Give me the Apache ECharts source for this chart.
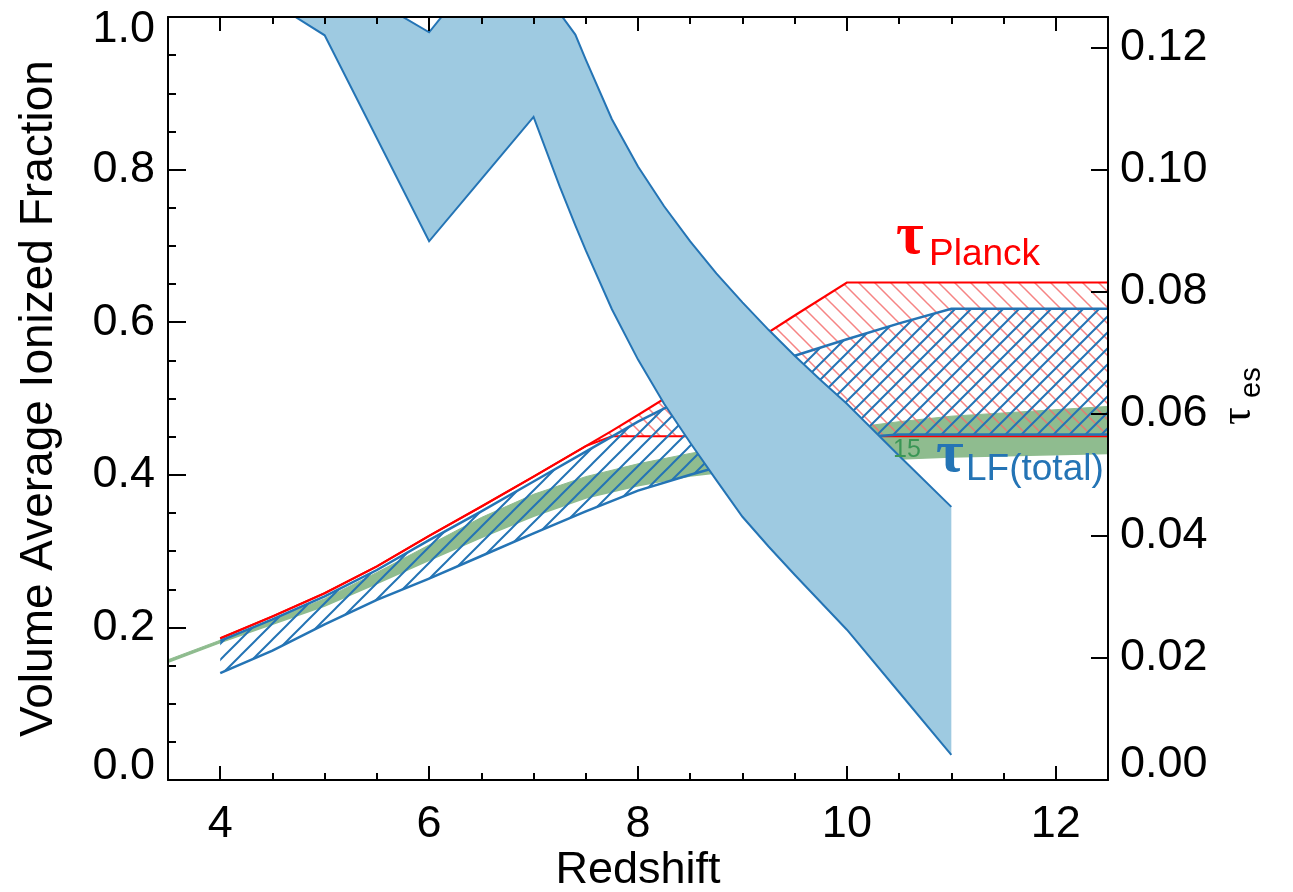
<!DOCTYPE html>
<html><head><meta charset="utf-8">
<script src="https://cdn.jsdelivr.net/npm/echarts@6/dist/echarts.min.js"></script>
<style>html,body{margin:0;padding:0;background:#fff}#c{width:1293px;height:892px}</style>
</head><body><div id="c"></div>
<script>
// ---- data ----
// Volume averaged ionized fraction band (left axis)
const zBand   = [4.5, 5, 6, 6.5, 7, 7.25, 7.4, 7.5, 7.75, 8, 8.25, 8.5, 8.75, 9, 9.25, 9.5, 9.75, 10, 10.5, 11];
const xiLower = [1.019, 0.976, 0.706, 0.7875, 0.869, 0.778, 0.727, 0.694, 0.617, 0.551, 0.493, 0.442, 0.393, 0.345, 0.306, 0.269, 0.233, 0.197, 0.115, 0.033];
const xiUpper = [1.11, 1.06, 0.98, 1.065, 1.04, 1.005, 0.977, 0.944, 0.866, 0.804, 0.752, 0.706, 0.664, 0.626, 0.590, 0.556, 0.524, 0.493, 0.425, 0.358];
// Planck tau region (right axis)
const zPlanck = [4, 4.5, 5, 5.5, 6, 6.5, 7, 7.5, 7.75, 8, 8.5, 9, 9.5, 10, 12.5];
const tauPlanckUpper = [0.0232, 0.0268, 0.0306, 0.0350, 0.0400, 0.0448, 0.0497, 0.0547, 0.0572, 0.0598, 0.0651, 0.0706, 0.0761, 0.0815, 0.0815];
const tauPlanckLower = [0.0232, 0.0268, 0.0306, 0.0350, 0.0400, 0.0448, 0.0497, 0.0547, 0.0563, 0.0563, 0.0563, 0.0563, 0.0563, 0.0563, 0.0563];
// tau LF(total) region (right axis)
const zLF = [4, 4.5, 5, 5.5, 6, 6.5, 7, 7.5, 8, 8.5, 9, 9.5, 10, 10.5, 11, 12.5];
const tauLFUpper = [0.0228, 0.0263, 0.0301, 0.0344, 0.0393, 0.0440, 0.0489, 0.0538, 0.0587, 0.0630, 0.0664, 0.0695, 0.0722, 0.0748, 0.0772, 0.0772];
const tauLFLower = [0.0175, 0.0212, 0.0255, 0.0295, 0.0330, 0.0367, 0.0404, 0.0440, 0.0474, 0.0500, 0.0524, 0.0545, 0.0560, 0.0566, 0.0566, 0.0566];
// green tau band (right axis)
const zGreen = [3.5, 4, 4.5, 5, 5.5, 6, 6.5, 7, 7.5, 8, 8.5, 9, 9.5, 10, 10.5, 11, 12.5];
const tauGreenUpper = [0.0197, 0.0229, 0.0262, 0.0297, 0.0340, 0.0385, 0.0430, 0.0468, 0.0497, 0.0518, 0.0535, 0.0550, 0.0563, 0.0576, 0.0587, 0.0596, 0.0612];
const tauGreenLower = [0.0193, 0.0225, 0.0255, 0.0285, 0.0322, 0.0360, 0.0397, 0.0432, 0.0462, 0.0482, 0.0498, 0.0508, 0.0515, 0.0521, 0.0526, 0.0529, 0.0535];
// axis ticks
const xMajorTicks = [4, 6, 8, 10, 12];

// ---- styling ----
const FONT = 'Liberation Sans, Arial, Helvetica, sans-serif';
const SERIF = 'Liberation Serif, DejaVu Serif, serif';
const BLUE = '#2474b5', FILL = '#9ecae1', RED = '#ff0000', GREEN = '#8fbc8f';

function hatch(size, color, width, dir) {
  const c = document.createElement('canvas');
  c.width = size; c.height = size;
  const g = c.getContext('2d');
  g.strokeStyle = color; g.lineWidth = width; g.lineCap = 'square';
  g.beginPath();
  [-size, 0, size].forEach(k => {
    if (dir === '/') { g.moveTo(k, size); g.lineTo(k + size, 0); }
    else { g.moveTo(k, 0); g.lineTo(k + size, size); }
  });
  g.stroke();
  return c;
}
const redHatch = hatch(16, 'rgba(245,110,110,0.85)', 1.5, '\\');
const blueHatch = hatch(16, BLUE, 2, '/');

const rows = (xs, lo, hi) => xs.map((x, i) => [x, lo[i], hi[i]]);

// custom band: polygon between lower and upper curves, with outline polylines
function bandSeries(xs, lo, hi, yIdx, fill, loStyle, hiStyle, z) {
  return {
    type: 'custom', xAxisIndex: 0, yAxisIndex: yIdx, z: z, silent: true, animation: false,
    data: rows(xs, lo, hi),
    encode: {x: 0, y: [1, 2]},
    renderItem: function (params, api) {
      if (params.dataIndexInside !== 0) return null;
      const n = params.dataInsideLength;
      const loPts = [], hiPts = [];
      for (let i = 0; i < n; i++) {
        const x = api.value(0, i);
        loPts.push(api.coord([x, api.value(1, i)]));
        hiPts.push(api.coord([x, api.value(2, i)]));
      }
      const cs = params.coordSys;
      const children = [{
        type: 'polygon', shape: {points: loPts.concat(hiPts.slice().reverse())},
        style: {fill: fill, stroke: null}
      }];
      if (loStyle) children.push({type: 'polyline', shape: {points: loPts}, style: Object.assign({fill: null}, loStyle)});
      if (hiStyle) children.push({type: 'polyline', shape: {points: hiPts}, style: Object.assign({fill: null}, hiStyle)});
      return {
        type: 'group',
        clipPath: {type: 'rect', shape: {x: cs.x, y: cs.y, width: cs.width, height: cs.height}},
        children: children
      };
    }
  };
}

const series = [
  bandSeries(zGreen, tauGreenLower, tauGreenUpper, 1, GREEN,
             {stroke: GREEN, lineWidth: 1.5}, {stroke: GREEN, lineWidth: 1}, 2),
  bandSeries(zPlanck, tauPlanckLower, tauPlanckUpper, 1, {image: redHatch, repeat: 'repeat'},
             {stroke: RED, lineWidth: 2}, {stroke: RED, lineWidth: 2.2}, 3),
  bandSeries(zLF, tauLFLower, tauLFUpper, 1, {image: blueHatch, repeat: 'repeat'},
             {stroke: BLUE, lineWidth: 2.5}, {stroke: BLUE, lineWidth: 2.5}, 4),
  bandSeries(zBand, xiLower, xiUpper, 0, FILL,
             {stroke: BLUE, lineWidth: 2}, {stroke: BLUE, lineWidth: 2}, 5)
];

const labelFont = {fontFamily: FONT, fontSize: 45, color: '#000'};
const gridRect = {left: 168, right: 185, top: 17, bottom: 112, outerBoundsMode: 'none', containLabel: false};

const option = {
  backgroundColor: '#fff',
  animation: false,
  grid: [Object.assign({}, gridRect), Object.assign({}, gridRect)],
  xAxis: [
    {type: 'value', gridIndex: 0, position: 'bottom', min: 3.5, max: 12.5, interval: 0.5, z: 10,
     name: 'Redshift', nameLocation: 'middle', nameGap: 68, nameMoveOverlap: false,
     nameTextStyle: {fontFamily: FONT, fontSize: 45, color: '#000'},
     axisLine: {show: true, onZero: false, lineStyle: {color: '#000', width: 2}},
     axisTick: {show: true, inside: true, length: 7, lineStyle: {color: '#000', width: 2}},
     axisLabel: {show: false}, splitLine: {show: false}},
    {type: 'value', gridIndex: 0, position: 'top', min: 3.5, max: 12.5, interval: 0.5, z: 10,
     axisLine: {show: true, onZero: false, lineStyle: {color: '#000', width: 2}},
     axisTick: {show: true, inside: true, length: 7, lineStyle: {color: '#000', width: 2}},
     axisLabel: {show: false}, splitLine: {show: false}},
    {type: 'value', gridIndex: 1, position: 'bottom', min: 3.5, max: 12.5, interval: 0.5, z: 10,
     axisLine: {show: false, onZero: false},
     axisTick: {show: true, inside: true, length: 14, customValues: xMajorTicks, lineStyle: {color: '#000', width: 2}},
     axisLabel: Object.assign({show: true, margin: 22, customValues: xMajorTicks, formatter: v => String(v)}, labelFont),
     splitLine: {show: false}},
    {type: 'value', gridIndex: 1, position: 'top', min: 3.5, max: 12.5, interval: 0.5, z: 10,
     axisLine: {show: false, onZero: false},
     axisTick: {show: true, inside: true, length: 14, customValues: xMajorTicks, lineStyle: {color: '#000', width: 2}},
     axisLabel: {show: false}, splitLine: {show: false}}
  ],
  yAxis: [
    {type: 'value', gridIndex: 0, position: 'left', min: 0, max: 1, interval: 0.2, z: 10,
     name: 'Volume Average Ionized Fraction', nameLocation: 'middle', nameGap: 106, nameRotate: 90, nameMoveOverlap: false,
     nameTextStyle: {fontFamily: FONT, fontSize: 46, color: '#000'},
     axisLine: {show: true, onZero: false, lineStyle: {color: '#000', width: 2}},
     axisTick: {show: true, inside: true, length: 18, lineStyle: {color: '#000', width: 2}},
     minorTick: {show: true, splitNumber: 4, length: 8, lineStyle: {color: '#000', width: 2}},
     axisLabel: Object.assign({margin: 13,
       formatter: v => v === 0 ? '{lo|0.0}' : (Math.abs(v - 1) < 1e-9 ? '{hi|1.0}' : v.toFixed(1)),
       rich: {lo: {fontFamily: FONT, fontSize: 45, color: '#000', padding: [0, 0, 26, 0]},
              hi: {fontFamily: FONT, fontSize: 45, color: '#000', padding: [26, 0, 0, 0]}}}, labelFont),
     splitLine: {show: false}, minorSplitLine: {show: false}},
    {type: 'value', gridIndex: 0, position: 'right', min: 0, max: 0.125, interval: 0.02, z: 10,
     axisLine: {show: true, onZero: false, lineStyle: {color: '#000', width: 2}},
     axisTick: {show: true, inside: true, length: 17, lineStyle: {color: '#000', width: 2}},
     axisLabel: Object.assign({margin: 12, showMaxLabel: false,
       formatter: v => v === 0 ? '{lo|0.00}' : v.toFixed(2),
       rich: {lo: {fontFamily: FONT, fontSize: 45, color: '#000', padding: [0, 0, 30, 0]}}}, labelFont),
     splitLine: {show: false}},
    {type: 'value', gridIndex: 1, min: 0, max: 1, show: false}
  ],
  graphic: [
    {type: 'text', x: 893, y: 450, z: 100, style: {text: '15', fontFamily: FONT, fontSize: 25, fill: '#3a9655', align: 'left', verticalAlign: 'middle'}},
    {type: 'text', x: 896, y: 237, z: 100, style: {text: 'τ', fontFamily: SERIF, fontWeight: 'bold', fontSize: 60, fill: RED, align: 'left', verticalAlign: 'middle'}},
    {type: 'text', x: 929, y: 255, z: 100, style: {text: 'Planck', fontFamily: FONT, fontSize: 37, fill: RED, align: 'left', verticalAlign: 'middle'}},
    {type: 'text', x: 936, y: 455, z: 100, style: {text: 'τ', fontFamily: SERIF, fontWeight: 'bold', fontSize: 60, fill: BLUE, align: 'left', verticalAlign: 'middle'}},
    {type: 'text', x: 966, y: 470, z: 100, style: {text: 'LF(total)', fontFamily: FONT, fontSize: 37, fill: BLUE, align: 'left', verticalAlign: 'middle'}},
    {type: 'group', x: 1253, y: 425, rotation: Math.PI / 2, z: 100, children: [
      {type: 'text', x: 0, y: -15, style: {text: 'τ', fontFamily: SERIF, fontSize: 44, fill: '#000', align: 'left', verticalAlign: 'middle'}},
      {type: 'text', x: 27, y: -1, style: {text: 'es', fontFamily: FONT, fontSize: 29, fill: '#000', align: 'left', verticalAlign: 'middle'}}
    ]}
  ],
  series: series
};

const chart = echarts.init(document.getElementById('c'), null, {renderer: 'canvas', width: 1293, height: 892});
chart.setOption(option);
</script></body></html>
